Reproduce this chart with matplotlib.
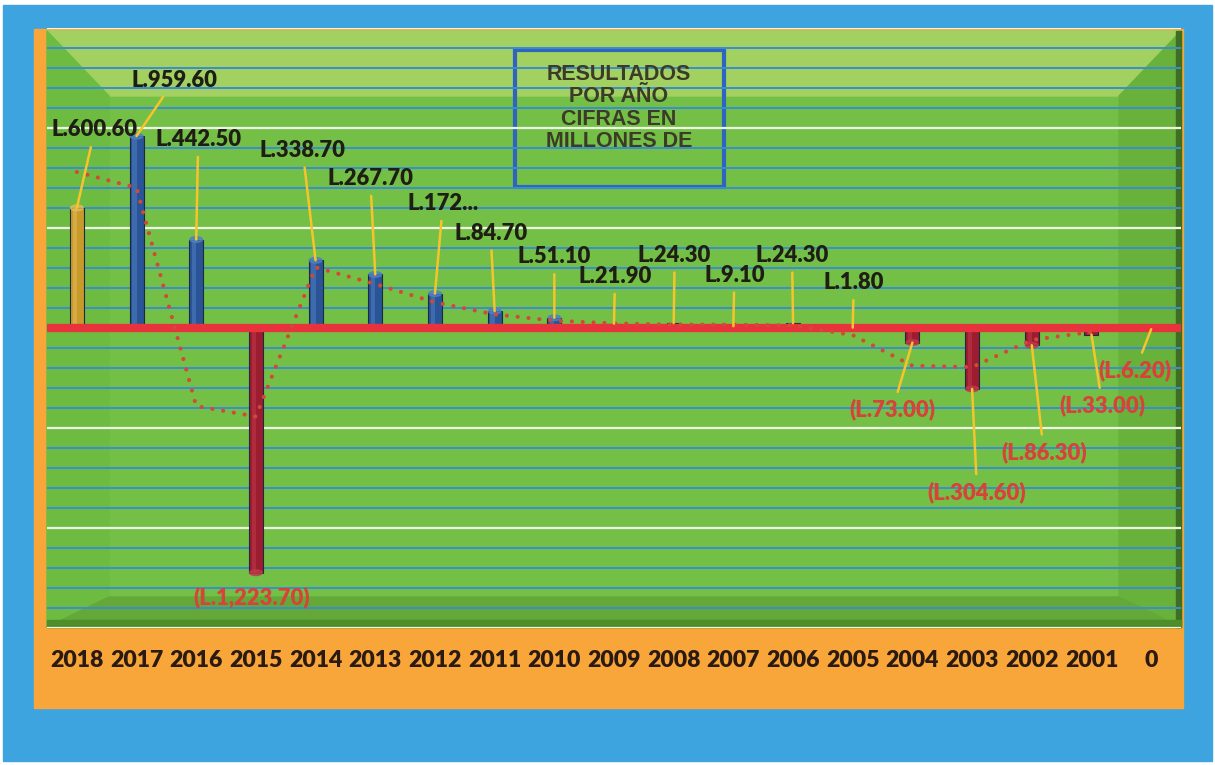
import numpy as np
import pandas as pd
import matplotlib
matplotlib.use("Agg")
import matplotlib.pyplot as plt
from matplotlib.patches import Rectangle, Polygon, Ellipse
from matplotlib.ticker import MultipleLocator

# Resultados por año (millones de lempiras)
years = ['2018', '2017', '2016', '2015', '2014', '2013', '2012', '2011', '2010',
         '2009', '2008', '2007', '2006', '2005', '2004', '2003', '2002', '2001', '0']
results = [600.60, 959.60, 442.50, -1223.70, 338.70, 267.70, 172.00, 84.70, 51.10,
           21.90, 24.30, 9.10, 24.30, 1.80, -73.00, -304.60, -86.30, -33.00, -6.20]
value_labels = ['L.600.60', 'L.959.60', 'L.442.50', '(L.1,223.70)', 'L.338.70', 'L.267.70',
                'L.172...', 'L.84.70', 'L.51.10', 'L.21.90', 'L.24.30', 'L.9.10', 'L.24.30',
                'L.1.80', '(L.73.00)', '(L.304.60)', '(L.86.30)', '(L.33.00)', '(L.6.20)']

# where each label sits relative to the end of its bar (pixels)
label_offsets = [(18, 78), (38, 56), (2, 100), (-4, -25), (-13, 110), (-5, 96), (8, 90),
                 (-4, 78), (0, 61), (1, 47), (1, 68), (1, 51), (-1, 68), (1, 45),
                 (-20, -67), (5, -103), (12, -107), (11, -71), (-16, -41)]

# moving average (period 2) trendline, like the excel one
s = pd.Series(results)
trend = (s + s.shift(-1)) / 2

W, H = 1215, 765
fig = plt.figure(figsize=(W / 100, H / 100), dpi=100)
fig.patch.set_facecolor('white')

# background frame in pixel coordinates
bg = fig.add_axes([0, 0, 1, 1])
bg.set_xlim(0, W)
bg.set_ylim(H, 0)
bg.axis('off')
bg.add_patch(Rectangle((3, 5), W - 6, H - 9, color='#3DA4E0', zorder=0))
bg.add_patch(Rectangle((34, 29), 1149, 679, color='#F8A53A', zorder=1))

gx0, gy0, gx1, gy1 = 47, 31, 1181, 627
bg.add_patch(Rectangle((gx0, gy0), gx1 - gx0, gy1 - gy0, color='#74C046', zorder=2))
bw_top, bw_side, bw_bot = 65, 62, 30
bg.add_patch(Polygon([(gx0, gy0), (gx1, gy0), (gx1 - bw_side, gy0 + bw_top),
                      (gx0 + bw_side, gy0 + bw_top)], color='#A2D061', zorder=2.1))
bg.add_patch(Polygon([(gx0, gy0), (gx0 + bw_side, gy0 + bw_top), (gx0 + bw_side, gy1 - bw_bot),
                      (gx0, gy1)], color='#6EBB42', zorder=2.1))
bg.add_patch(Polygon([(gx1, gy0), (gx1 - bw_side, gy0 + bw_top), (gx1 - bw_side, gy1 - bw_bot),
                      (gx1, gy1)], color='#68B23C', zorder=2.1))
bg.add_patch(Polygon([(gx0, gy1), (gx0 + bw_side, gy1 - bw_bot), (gx1 - bw_side, gy1 - bw_bot),
                      (gx1, gy1)], color='#63A838', zorder=2.1))
bg.add_patch(Rectangle((gx1 - 5, gy0), 5, gy1 - gy0, color='#3E6E22', zorder=2.2))
bg.add_patch(Rectangle((gx0, gy1 - 7), gx1 - gx0, 7, color='#4E8E2A', zorder=2.2))

# data axes over the green area
ax = fig.add_axes([gx0 / W, (H - 628) / H, (gx1 - gx0) / W, 600 / H])
ax.patch.set_alpha(0)
ax.set_xlim(-0.5, len(years) - 0.5)
ax.set_ylim(-1500, 1500)
for sp in ax.spines.values():
    sp.set_visible(False)

ax.yaxis.set_major_locator(MultipleLocator(500))
ax.yaxis.set_minor_locator(MultipleLocator(100))
ax.grid(which='minor', axis='y', color='#3A8ED0', lw=1.4)
ax.grid(which='major', axis='y', color='#EEF6E6', lw=1.6)
ax.set_axisbelow(True)
ax.tick_params(axis='y', which='both', length=0, labelleft=False)

x = np.arange(len(years))
colors = []
lights = []
for i, v in enumerate(results):
    if i == 0:
        colors.append('#C89A2C'); lights.append('#E2BC55')
    elif v >= 0:
        colors.append('#2A5496'); lights.append('#4F7FC2')
    else:
        colors.append('#9C1C30'); lights.append('#C0394A')

bw = 0.235
ax.bar(x, results, width=bw, color=colors, edgecolor='#1C2A40', lw=0.8, zorder=3)
ax.bar(x - 0.035, results, width=0.07, color=lights, alpha=0.55, lw=0, zorder=3.1)
for i, v in enumerate(results):
    if abs(v) > 40:
        ax.add_patch(Ellipse((i, v), bw * 0.9, 28, color=lights[i], alpha=0.8, zorder=3.2))

ax.axhline(0, color='#E8323C', lw=6, zorder=4)

ax.plot(x, trend, color='#D04A38', lw=3.0, linestyle=(0, (0.01, 2.6)),
        dash_capstyle='round', zorder=5)

for i, v in enumerate(results):
    dx, dy = label_offsets[i]
    col = '#1E1E14' if v >= 0 else '#D6433A'
    arrow = None if i == 3 else dict(arrowstyle='-', color='#F6C42C', lw=1.8,
                                     shrinkA=3, shrinkB=0)
    ax.annotate(value_labels[i], xy=(i, v), xytext=(dx, dy), textcoords='offset pixels',
                ha='center', va='center', fontsize=15.8, fontweight='heavy',
                fontfamily='Lato', color=col, arrowprops=arrow, zorder=6)

ax.set_xticks(x)
ax.set_xticklabels(years, fontfamily='Lato', fontweight='heavy', fontsize=16.6,
                   color='#2A1A12')
ax.tick_params(axis='x', length=0, pad=16)

# caption box
bg.add_patch(Rectangle((515, 50), 209, 137, fill=False, edgecolor='#2F64BF', lw=3, zorder=8))
fig.text(619 / W, 1 - 108 / H, 'RESULTADOS\nPOR AÑO\nCIFRAS EN\nMILLONES DE',
         ha='center', va='center', fontsize=15.5, fontweight='bold',
         fontfamily='Liberation Sans', color='#3B3B28', linespacing=1.1, zorder=9)

fig.savefig('out.png', dpi=100)
